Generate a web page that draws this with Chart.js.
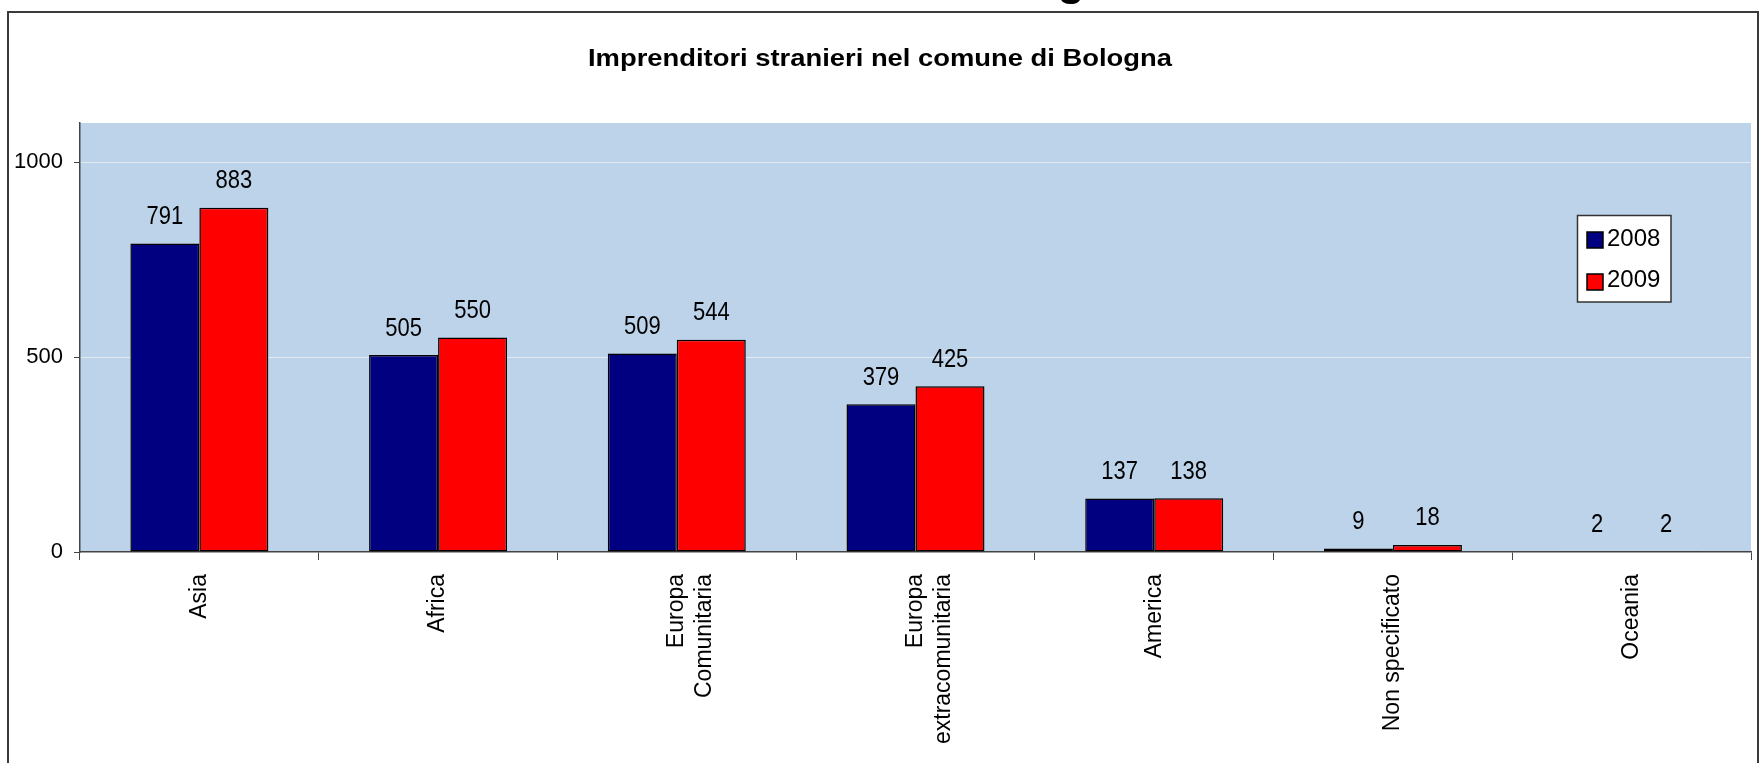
<!DOCTYPE html>
<html>
<head>
<meta charset="utf-8">
<script src="https://cdn.jsdelivr.net/npm/chart.js@4/dist/chart.umd.min.js"></script>
<style>
html,body{margin:0;padding:0;background:#fff;overflow:hidden}
#wrap{position:relative;width:1760px;height:763px}
</style>
</head>
<body>
<div id="wrap"><canvas id="c" width="1760" height="763"></canvas></div>
<script>
const categories = ["Asia", "Africa", ["Europa", "Comunitaria"], ["Europa", "extracomunitaria"], "America", "Non specificato", "Oceania"];
const seriesNames = ["2008", "2009"];
const values2008 = [791, 505, 509, 379, 137, 9, 2];
const values2009 = [883, 550, 544, 425, 138, 18, 2];
const yTicks = [0, 500, 1000];
const chartTitle = "Imprenditori stranieri nel comune di Bologna";
const headingFragment = "Bologna";

const FONT = '"Liberation Sans", Arial, sans-serif';
const colors = ["#000080", "#FF0000"];

const decor = {
  id: 'decor',
  beforeDraw(chart) {
    const ctx = chart.ctx, a = chart.chartArea;
    ctx.save();
    ctx.fillStyle = '#fff';
    ctx.fillRect(0, 0, chart.width, chart.height);
    // cut-off heading above the chart frame
    ctx.fillStyle = '#000';
    ctx.font = 'bold 44px ' + FONT;
    ctx.textBaseline = 'alphabetic';
    ctx.textAlign = 'left';
    ctx.fillText(headingFragment, 960, -5);
    // outer frame
    ctx.strokeStyle = '#3a3a3a';
    ctx.lineWidth = 2;
    ctx.strokeRect(8, 12, 1750, 800);
    // plot background
    ctx.fillStyle = '#BDD3E9';
    ctx.fillRect(a.left, a.top, a.right - a.left, a.bottom - a.top);
    ctx.restore();
  },
  afterDatasetsDraw(chart) {
    const ctx = chart.ctx;
    ctx.save();
    ctx.fillStyle = '#000';
    ctx.font = '22px ' + FONT;
    ctx.textAlign = 'center';
    ctx.textBaseline = 'alphabetic';
    chart.data.datasets.forEach((ds, i) => {
      const meta = chart.getDatasetMeta(i);
      meta.data.forEach((bar, j) => {
        ctx.save();
        ctx.translate(bar.x, bar.y - 19.5);
        ctx.scale(1, 1.14);
        ctx.fillText(String(ds.data[j]), 0, 0);
        ctx.restore();
      });
    });
    // title
    ctx.font = 'bold 23px ' + FONT;
    ctx.save();
    ctx.translate(880, 66);
    ctx.scale(1.19, 1);
    ctx.fillText(chartTitle, 0, 0);
    ctx.restore();
    // legend
    const lx = 1577.5, ly = 215.5, lw = 93.5, lh = 86.5;
    ctx.fillStyle = '#fff';
    ctx.fillRect(lx, ly, lw, lh);
    ctx.strokeStyle = '#333';
    ctx.lineWidth = 1.5;
    ctx.strokeRect(lx, ly, lw, lh);
    ctx.font = '24px ' + FONT;
    ctx.textAlign = 'left';
    const rows = [{sy: 232, ty: 246}, {sy: 274, ty: 287}];
    chart.data.datasets.forEach((ds, i) => {
      ctx.fillStyle = ds.backgroundColor;
      ctx.fillRect(1587, rows[i].sy, 16, 16);
      ctx.strokeStyle = '#000';
      ctx.lineWidth = 1.5;
      ctx.strokeRect(1587, rows[i].sy, 16, 16);
      ctx.fillStyle = '#000';
      ctx.fillText(ds.label, 1607, rows[i].ty);
    });
    ctx.restore();
  }
};

new Chart(document.getElementById('c'), {
  type: 'bar',
  data: {
    labels: categories,
    datasets: [
      { label: seriesNames[0], data: values2008, backgroundColor: colors[0], borderColor: '#000', borderWidth: 1.5, borderSkipped: false },
      { label: seriesNames[1], data: values2009, backgroundColor: colors[1], borderColor: '#000', borderWidth: 1.5, borderSkipped: false }
    ]
  },
  options: {
    responsive: false,
    animation: false,
    devicePixelRatio: 1,
    layout: { padding: { left: 10, right: 9, top: 123, bottom: 0 } },
    datasets: { bar: { categoryPercentage: 0.578, barPercentage: 1.0 } },
    plugins: {
      legend: { display: false },
      title: { display: false },
      tooltip: { enabled: false }
    },
    scales: {
      x: {
        type: 'category',
        offset: true,
        grid: { offset: true, drawOnChartArea: false, drawTicks: true, tickLength: 8, tickColor: '#444', lineWidth: 1 },
        border: { display: true, color: '#444', width: 1.5 },
        ticks: {
          autoSkip: false, minRotation: 90, maxRotation: 90, padding: 14, color: '#000',
          font: { family: FONT, size: 23, lineHeight: 1.22 }
        },
        afterFit(s) { s.height = 211; }
      },
      y: {
        min: 0, max: 1100,
        afterBuildTicks(s) { s.ticks = yTicks.map(v => ({ value: v })); },
        grid: {
          color: c => (c.tick && c.tick.value === 0) ? 'rgba(0,0,0,0)' : '#E2EAF4',
          lineWidth: 1, tickLength: 6, tickColor: '#444', drawTicks: true
        },
        border: { display: true, color: '#444', width: 1.5 },
        ticks: {
          padding: 11, color: '#000', font: { family: FONT, size: 22 },
          callback: v => String(v)
        },
        afterFit(s) { s.width = 70; }
      }
    }
  },
  plugins: [decor]
});
</script>
</body>
</html>
